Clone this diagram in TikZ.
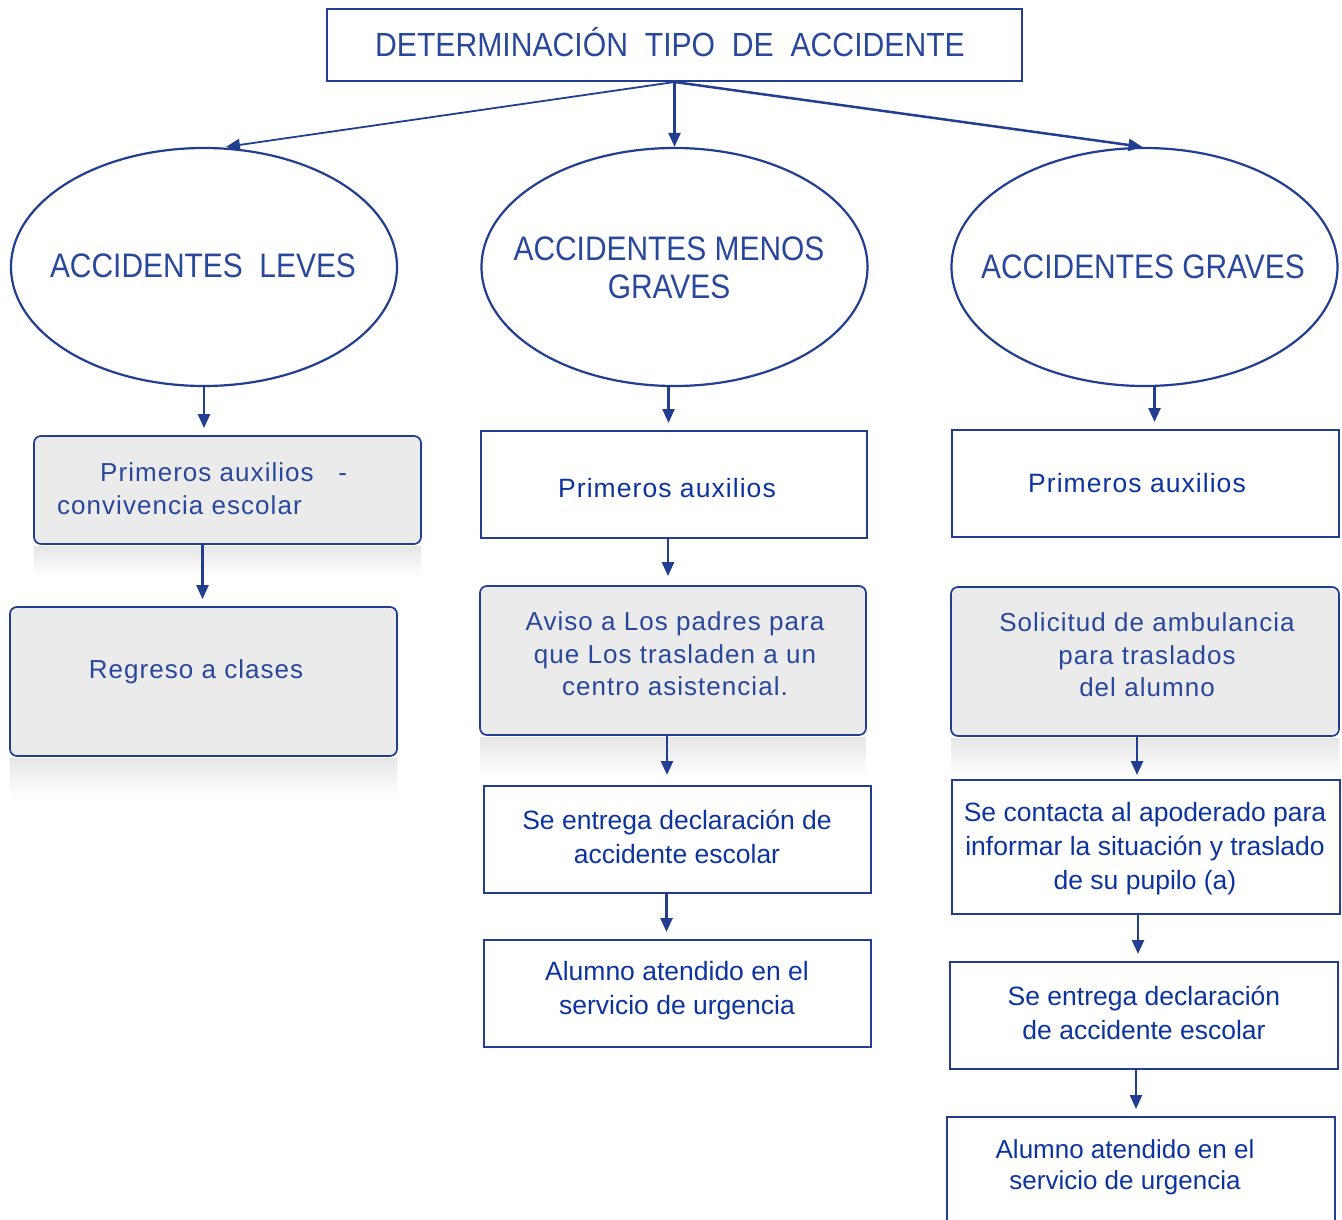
\documentclass[tikz,border=0pt]{standalone}
\usepackage{fontspec}
\setmainfont{Liberation Sans}
\newfontfamily\condfont[FakeStretch=0.88]{Liberation Sans}
\newfontfamily\titlefont[FakeStretch=0.9]{Liberation Sans}
\newfontfamily\widefont[LetterSpace=4]{Liberation Sans}
\usetikzlibrary{shapes.geometric,arrows.meta,calc}
\definecolor{lineblue}{RGB}{33,62,145}
\definecolor{txtblue}{RGB}{12,52,158}
\definecolor{softblue}{RGB}{40,72,155}
\definecolor{boxgray}{RGB}{235,235,236}

\begin{document}
\begin{tikzpicture}[x=1pt,y=-1pt,
  flow/.style={draw=lineblue,line width=2.5pt,-{Triangle[length=14pt,width=12pt]}},
  gap/.style={shorten >=7pt},
  plainbox/.style={draw=lineblue,line width=2pt,fill=white,inner sep=0pt},
  graybox/.style={draw=lineblue,line width=1.7pt,fill=boxgray,rounded corners=7pt,inner sep=0pt},
  oval/.style={ellipse,draw=lineblue,line width=2.2pt,fill=white,inner sep=0pt,
               minimum width=386pt,minimum height=238pt},
  mirror/.style={top color=black!10,bottom color=white,draw=none},
  bodytext/.style={text=txtblue,align=center,inner sep=0pt,font=\fontsize{26.5}{34}\selectfont},
  graytext/.style={text=softblue,align=center,inner sep=0pt,font=\widefont\fontsize{26}{32.5}\selectfont},
  headtext/.style={text=softblue,align=center,inner sep=0pt,font=\condfont\fontsize{34}{38}\selectfont}
]
\useasboundingbox (0,0) rectangle (1342,1220);
\clip (0,0) rectangle (1342,1220);

% soft reflections under the grey boxes
\shade[mirror] (34,546) rectangle (421,576);
\shade[mirror] (10,758) rectangle (397,796);
\shade[mirror] (480,737) rectangle (866,776);
\shade[mirror] (951,738) rectangle (1339,776);

% title
\node[plainbox,minimum width=695pt,minimum height=72pt] (title) at (674.5,45) {};
\node[text=softblue,inner sep=0pt,anchor=base,font=\titlefont\fontsize{33.5}{38}\selectfont]
  (titletext) at (670,57) {DETERMINACIÓN\ \ TIPO\ \ DE\ \ ACCIDENTE};

% three categories
\node[oval] (leves) at (204,267) {};
\node[oval] (menos) at (674.5,267) {};
\node[oval] (graves) at (1144.5,267) {};
\node[headtext] (levestext) at (203,266) {ACCIDENTES\ \ LEVES};
\node[headtext] (menostext) at (669,268) {ACCIDENTES MENOS\\GRAVES};
\node[headtext] (gravestext) at (1143,267) {ACCIDENTES GRAVES};

% first column
\node[graybox,minimum width=387pt,minimum height=108pt] (l1) at (227.5,490) {};
\node[graytext,align=left,anchor=west] (l1text) at (57,488.5)
  {\hspace*{43pt}Primeros auxilios\ \ \ -\\convivencia escolar};
\node[graybox,minimum width=387pt,minimum height=149pt] (l2) at (203.5,681.5) {};
\node[graytext] (l2text) at (196,672) {Regreso a clases};

% second column
\node[plainbox,minimum width=386pt,minimum height=107pt] (m1) at (674,484.5) {};
\node[bodytext,font=\widefont\fontsize{26.5}{34}\selectfont] (m1text) at (667,488) {Primeros auxilios};
\node[graybox,minimum width=386pt,minimum height=149pt] (m2) at (673,660.5) {};
\node[graytext] (m2text) at (675,654) {Aviso a Los padres para\\que Los trasladen a un\\centro asistencial.};
\node[plainbox,minimum width=387pt,minimum height=107pt] (m3) at (677.5,839.5) {};
\node[bodytext] (m3text) at (677,837) {Se entrega declaración de\\accidente escolar};
\node[plainbox,minimum width=387pt,minimum height=107pt] (m4) at (677.5,993.5) {};
\node[bodytext] (m4text) at (677,991) {Alumno atendido en el\\servicio de urgencia};

% third column
\node[plainbox,minimum width=387pt,minimum height=107pt] (r1) at (1145.5,483.5) {};
\node[bodytext,font=\widefont\fontsize{26.5}{34}\selectfont] (r1text) at (1137,483) {Primeros auxilios};
\node[graybox,minimum width=388pt,minimum height=149pt] (r2) at (1145,661.5) {};
\node[graytext] (r2text) at (1147,655) {Solicitud de ambulancia\\para traslados\\del alumno};
\node[plainbox,minimum width=388pt,minimum height=134pt] (r3) at (1146,847) {};
\node[bodytext] (r3text) at (1145,849) {Se contacta al apoderado para\\informar la situación y traslado\\de su pupilo (a)};
\node[plainbox,minimum width=388pt,minimum height=107pt] (r4) at (1144,1015.5) {};
\node[bodytext] (r4text) at (1144,1013) {Se entrega declaración\\de accidente escolar};
\node[plainbox,minimum width=388pt,minimum height=140pt] (r5) at (1141,1187) {};
\node[bodytext,font=\fontsize{26}{31}\selectfont] (r5text) at (1125,1167) {Alumno atendido en el\\servicio de urgencia};

% connectors from the title
\draw[flow,line width=1.8pt] (title.south) -- ($(leves.north)+(22,0)$);
\draw[flow] (title.south) -- (menos.north);
\draw[flow] (title.south) -- ($(graves.north)+(-2,0)$);

% connectors down each column
\draw[flow,gap] (leves.south) -- (leves.south |- l1.north);
\draw[flow,gap] ([xshift=-25pt]l1.south) -- ([xshift=-25pt]l1.south |- l2.north);

\draw[flow,gap] ([xshift=-6pt]menos.south) -- ([xshift=-6pt]menos.south |- m1.north);
\draw[flow,shorten >=9pt] ([xshift=-6pt]m1.south) -- ([xshift=-6pt]m1.south |- m2.north);
\draw[flow,shorten >=10pt] ([xshift=-6pt]m2.south) -- ([xshift=-6pt]m2.south |- m3.north);
\draw[flow,gap] ([xshift=-11pt]m3.south) -- ([xshift=-11pt]m3.south |- m4.north);

\draw[flow,gap] ([xshift=10pt]graves.south) -- ([xshift=10pt]graves.south |- r1.north);
\draw[flow,shorten >=4pt] ([xshift=-8pt]r2.south) -- ([xshift=-8pt]r2.south |- r3.north);
\draw[flow,gap] ([xshift=-8pt]r3.south) -- ([xshift=-8pt]r3.south |- r4.north);
\draw[flow,gap] ([xshift=-8pt]r4.south) -- ([xshift=-8pt]r4.south |- r5.north);
\end{tikzpicture}
\end{document}
